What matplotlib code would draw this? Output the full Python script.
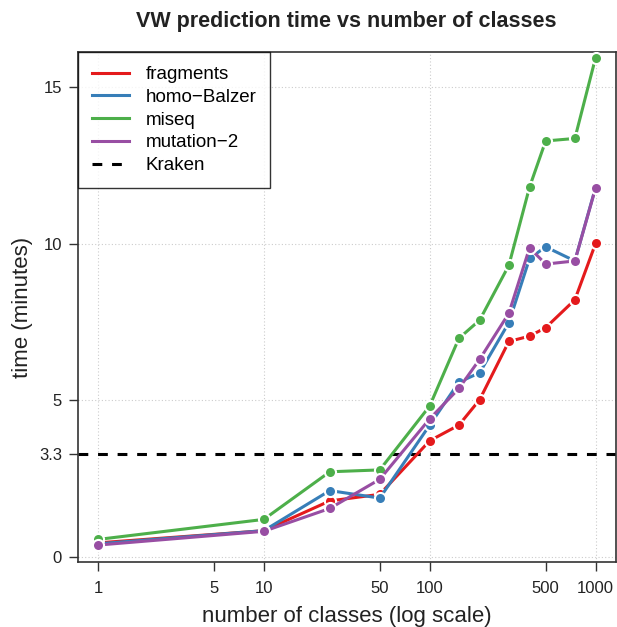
import matplotlib
matplotlib.use("Agg")
import matplotlib.pyplot as plt

plt.rcParams['font.family'] = ['Liberation Sans', 'DejaVu Sans']

classes = [1, 10, 25, 50, 100, 150, 200, 300, 400, 500, 750, 1000]
fragments = [0.45, 0.84, 1.79, 2.0, 3.71, 4.21, 5.02, 6.88, 7.05, 7.32, 8.21, 10.01]
homo_balzer = [0.42, 0.84, 2.12, 1.88, 4.21, 5.58, 5.88, 7.48, 9.53, 9.9, 9.45, 11.8]
miseq = [0.56, 1.2, 2.72, 2.78, 4.82, 6.98, 7.56, 9.31, 11.81, 13.28, 13.36, 15.94]
mutation_2 = [0.38, 0.82, 1.55, 2.48, 4.41, 5.38, 6.31, 7.78, 9.87, 9.35, 9.45, 11.78]
kraken = 3.3

series = [
    ("fragments", fragments, "#E41A1C"),
    ("homo\u2212Balzer", homo_balzer, "#377EB8"),
    ("miseq", miseq, "#4DAF4A"),
    ("mutation\u22122", mutation_2, "#984EA3"),
]

xticks = [1, 5, 10, 50, 100, 500, 1000]
yticks = [0, 3.3, 5, 10, 15]

fig = plt.figure(figsize=(6.17, 6.27), dpi=100)
ax = fig.add_axes([78 / 617, 65 / 627, 537.5 / 617, 510 / 627])

# dotted grid only at the decades and at 0/5/10/15
for x in [1, 10, 100, 1000]:
    ax.axvline(x, color="#cccccc", lw=0.8, ls=(0, (1, 2)), zorder=0)
for y in [0, 5, 10, 15]:
    ax.axhline(y, color="#cccccc", lw=0.8, ls=(0, (1, 2)), zorder=0)

for name, vals, col in series:
    ax.plot(classes, vals, color=col, lw=2.2, marker="o", ms=8,
            mfc=col, mec="white", mew=1.5, label=name, zorder=3)
ax.axhline(kraken, color="black", lw=2.2, ls=(0, (3.2, 3.2)), label="Kraken", zorder=2)

ax.set_xscale("log")
ax.set_xlim(10 ** -0.12, 10 ** 3.12)
ax.set_ylim(-0.16, 16.12)
ax.set_xticks(xticks)
ax.set_xticklabels([str(t) for t in xticks])
ax.xaxis.set_minor_locator(matplotlib.ticker.NullLocator())
ax.set_yticks(yticks)
ax.set_yticklabels(["0", "3.3", "5", "10", "15"])
ax.tick_params(axis="both", labelsize=12, length=6.5, width=1, color="#333333",
               labelcolor="#222222")
ax.tick_params(axis="x", pad=7)
ax.tick_params(axis="y", pad=5)
for s in ax.spines.values():
    s.set_color("#333333")
    s.set_linewidth(1.2)

ax.set_xlabel("number of classes (log scale)", fontsize=16, color="#222222", labelpad=7.5)
ax.set_ylabel("time (minutes)", fontsize=16, color="#222222", labelpad=4)
ax.set_title("VW prediction time vs number of classes", fontsize=15.5,
             fontweight="bold", color="#222222", pad=18)

leg = ax.legend(loc="upper left", fontsize=13.5, frameon=True, fancybox=False,
                edgecolor="black", borderaxespad=0, handlelength=1.95,
                handletextpad=0.9, labelspacing=0.3, borderpad=0.75)
leg.get_frame().set_linewidth(1.0)
for h in leg.legend_handles:
    h.set_marker("")

fig.savefig("out.png", dpi=100)
